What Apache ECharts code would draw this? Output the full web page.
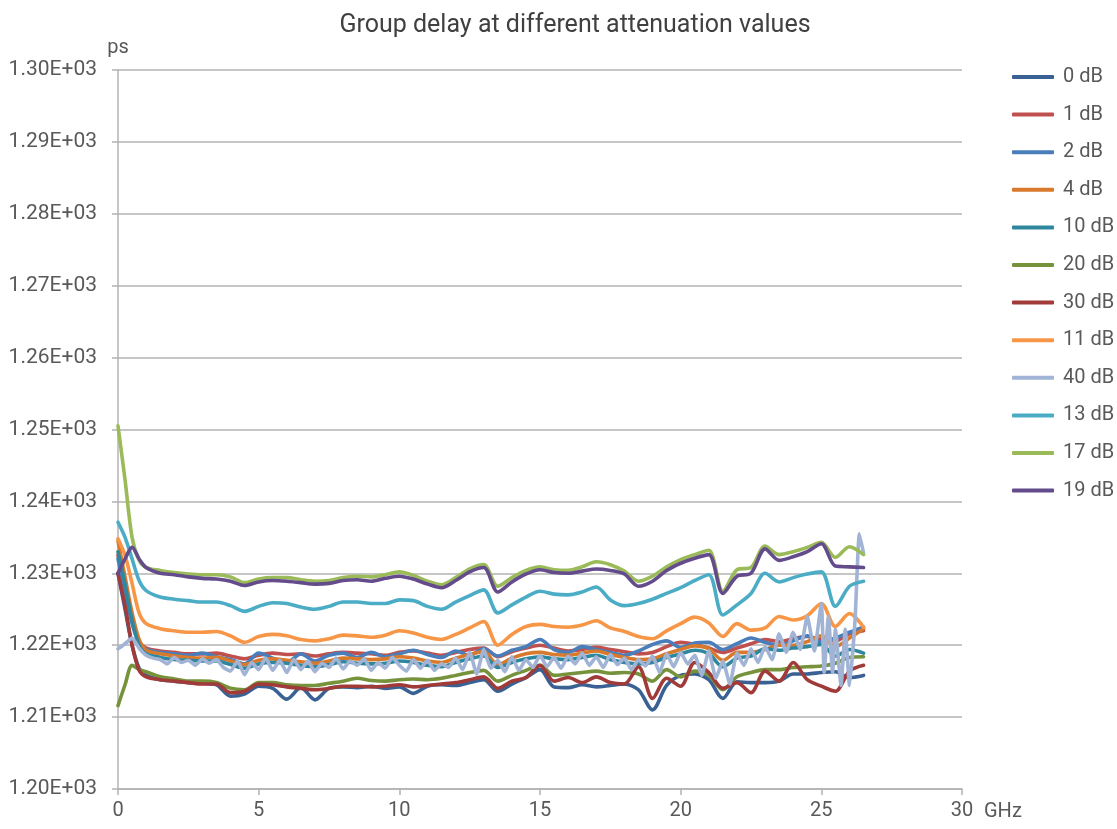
<!DOCTYPE html>
<html>
<head>
<meta charset="utf-8">
<title>Group delay</title>
<script src="https://cdn.jsdelivr.net/npm/echarts@6/dist/echarts.min.js"></script>
</head>
<body style="margin:0;background:#fff;">
<div id="main" style="width:1117px;height:829px;"></div>
<script>
// frequency points (GHz) shared by the smoother traces
var freq = [0, 0.25, 0.5, 0.75, 1, 1.5, 2, 2.5, 3, 3.5, 4, 4.5, 5, 5.5, 6, 6.5, 7, 7.5, 8, 8.5, 9, 9.5, 10, 10.5, 11, 11.5, 12, 12.5, 13, 13.5, 14, 14.5, 15, 15.5, 16, 16.5, 17, 17.5, 18, 18.5, 19, 19.5, 20, 20.5, 21, 21.5, 22, 22.5, 23, 23.5, 24, 24.5, 25, 25.5, 26, 26.5];

// group delay in ps
var db0 = [1230.0, 1225.0, 1220.0, 1216.8, 1215.8, 1215.2, 1215.0, 1214.8, 1214.7, 1214.5, 1212.9, 1213.2, 1214.3, 1214.0, 1212.5, 1214.1, 1212.4, 1214.0, 1214.2, 1214.1, 1214.3, 1214.0, 1214.2, 1213.3, 1214.3, 1214.5, 1214.4, 1214.8, 1215.2, 1213.6, 1214.6, 1215.5, 1216.6, 1214.2, 1214.1, 1214.5, 1214.2, 1214.4, 1214.6, 1213.8, 1211.0, 1214.4, 1215.8, 1216.0, 1215.2, 1212.6, 1214.9, 1214.8, 1214.8, 1215.0, 1216.0, 1216.0, 1216.2, 1216.3, 1215.5, 1215.8];
var db1 = [1232.5, 1228.0, 1223.5, 1220.5, 1219.6, 1219.2, 1219.0, 1218.8, 1218.8, 1218.9, 1218.5, 1218.1, 1218.6, 1218.9, 1218.7, 1218.8, 1218.5, 1218.8, 1219.0, 1218.9, 1218.8, 1218.6, 1219.0, 1219.2, 1218.9, 1218.6, 1219.0, 1219.4, 1219.6, 1218.4, 1219.1, 1219.6, 1220.0, 1219.6, 1219.2, 1219.4, 1219.7, 1219.4, 1219.1, 1218.8, 1219.0, 1219.8, 1220.4, 1220.1, 1219.6, 1219.0, 1219.6, 1220.2, 1220.8, 1220.5, 1220.9, 1221.2, 1220.8, 1220.6, 1221.6, 1222.0];
var db2 = [1232.0, 1227.5, 1223.0, 1220.3, 1219.4, 1219.0, 1218.8, 1218.6, 1218.9, 1218.4, 1218.0, 1217.4, 1218.9, 1218.2, 1217.6, 1218.8, 1217.8, 1218.6, 1218.9, 1218.3, 1219.0, 1218.4, 1218.8, 1219.3, 1218.7, 1218.3, 1219.2, 1218.6, 1219.5, 1218.5, 1219.3, 1219.8, 1220.8, 1219.4, 1219.0, 1219.8, 1219.4, 1219.0, 1218.6, 1219.2, 1220.1, 1220.6, 1219.7, 1220.3, 1220.4, 1219.4, 1220.2, 1221.0, 1220.4, 1220.0, 1220.6, 1221.3, 1220.4, 1221.0, 1221.8, 1222.5];
var db4 = [1234.5, 1229.5, 1224.5, 1220.8, 1219.3, 1218.8, 1218.5, 1218.3, 1218.2, 1218.3, 1217.8, 1217.3, 1217.9, 1218.1, 1217.9, 1217.7, 1217.5, 1217.8, 1218.2, 1218.1, 1218.0, 1218.1, 1218.4, 1218.2, 1217.8, 1217.6, 1218.2, 1218.7, 1219.1, 1217.3, 1218.2, 1218.8, 1219.0, 1218.7, 1218.6, 1218.9, 1219.2, 1218.7, 1218.3, 1218.0, 1218.1, 1218.8, 1219.4, 1219.9, 1219.5, 1217.9, 1219.0, 1219.0, 1219.4, 1220.0, 1220.0, 1220.5, 1221.3, 1219.8, 1221.0, 1222.3];
var db10 = [1233.0, 1228.5, 1223.5, 1220.0, 1218.8, 1218.3, 1218.0, 1217.9, 1217.8, 1217.8, 1217.3, 1216.8, 1217.4, 1217.6, 1217.5, 1217.2, 1217.0, 1217.3, 1217.7, 1217.5, 1217.4, 1217.5, 1217.8, 1217.6, 1217.2, 1217.0, 1217.6, 1218.1, 1218.5, 1216.9, 1217.6, 1218.1, 1218.4, 1218.1, 1218.0, 1218.3, 1218.6, 1218.0, 1217.6, 1217.4, 1217.6, 1218.3, 1218.8, 1219.3, 1218.8, 1217.0, 1218.2, 1218.5, 1219.5, 1219.3, 1219.6, 1219.8, 1220.1, 1218.5, 1219.4, 1218.9];
var db20 = [1211.6, 1214.5, 1217.2, 1216.6, 1216.3, 1215.6, 1215.3, 1215.0, 1215.0, 1214.8, 1214.0, 1213.8, 1214.8, 1214.8, 1214.5, 1214.4, 1214.4, 1214.7, 1215.0, 1215.4, 1215.1, 1215.0, 1215.2, 1215.3, 1215.2, 1215.4, 1215.8, 1216.2, 1216.5, 1215.0, 1215.8, 1216.5, 1217.2, 1215.8, 1216.0, 1216.2, 1216.4, 1216.1, 1216.2, 1216.0, 1215.0, 1216.6, 1215.6, 1216.4, 1215.8, 1213.8, 1215.6, 1216.2, 1216.6, 1216.6, 1216.9, 1217.0, 1217.1, 1217.5, 1218.3, 1218.4];
var db30 = [1230.0, 1225.5, 1220.0, 1216.5, 1215.6, 1215.2, 1215.0, 1214.8, 1214.6, 1214.6, 1213.4, 1213.6, 1214.6, 1214.5, 1214.2, 1214.0, 1213.8, 1214.0, 1214.3, 1214.3, 1214.2, 1214.3, 1214.5, 1214.2, 1214.4, 1214.6, 1214.8, 1215.2, 1215.6, 1214.0, 1215.0, 1215.5, 1217.2, 1215.0, 1215.5, 1214.8, 1215.6, 1214.8, 1214.6, 1217.0, 1212.6, 1215.4, 1214.3, 1217.6, 1216.2, 1214.0, 1214.8, 1213.4, 1216.4, 1215.0, 1217.6, 1215.2, 1214.3, 1213.6, 1216.4, 1217.2];
var db11 = [1234.8, 1232.5, 1228.6, 1224.5, 1223.0, 1222.3, 1222.0, 1221.8, 1221.8, 1221.9, 1221.3, 1220.4, 1221.2, 1221.5, 1221.3, 1220.8, 1220.6, 1220.9, 1221.4, 1221.3, 1221.1, 1221.4, 1222.0, 1221.7, 1221.1, 1220.8, 1221.5, 1222.4, 1223.3, 1220.0, 1221.5, 1222.6, 1222.9, 1222.6, 1222.5, 1222.8, 1223.4, 1222.4, 1221.9, 1221.2, 1220.9, 1222.0, 1223.0, 1223.9, 1223.1, 1221.2, 1223.0, 1222.1, 1222.4, 1224.0, 1223.5, 1224.1, 1225.8, 1222.6, 1224.4, 1222.5];
var db13 = [1237.1, 1235.0, 1232.0, 1229.0, 1227.6, 1226.7, 1226.4, 1226.2, 1226.0, 1226.0, 1225.5, 1224.7, 1225.4, 1225.9, 1225.8, 1225.3, 1225.0, 1225.4, 1226.0, 1226.0, 1225.8, 1225.8, 1226.3, 1226.2, 1225.4, 1225.0, 1226.0, 1226.9, 1227.7, 1224.5, 1225.6, 1226.7, 1227.5, 1227.1, 1227.0, 1227.4, 1228.1, 1226.3, 1225.5, 1225.8, 1226.4, 1227.2, 1228.0, 1229.0, 1229.8, 1224.2, 1225.6, 1227.2, 1230.0, 1228.8, 1229.4, 1229.9, 1230.2, 1225.4, 1228.2, 1228.9];
var db17 = [1250.5, 1243.0, 1235.0, 1231.8, 1230.8, 1230.4, 1230.1, 1229.9, 1229.8, 1229.8, 1229.5, 1228.7, 1229.2, 1229.4, 1229.4, 1229.1, 1228.9, 1229.0, 1229.4, 1229.6, 1229.5, 1229.8, 1230.2, 1229.7, 1228.9, 1228.4, 1229.4, 1230.6, 1231.2, 1228.2, 1229.4, 1230.4, 1230.9, 1230.5, 1230.4, 1230.9, 1231.6, 1231.2, 1230.3, 1228.9, 1229.6, 1230.9, 1231.9, 1232.6, 1233.2, 1227.5, 1230.5, 1230.8, 1233.8, 1232.6, 1233.0, 1233.6, 1234.3, 1232.2, 1233.7, 1232.6];
var db19 = [1230.0, 1232.0, 1233.6, 1232.0, 1230.8, 1230.0, 1229.8, 1229.5, 1229.3, 1229.2, 1228.9, 1228.3, 1228.8, 1229.0, 1228.9, 1228.7, 1228.5, 1228.6, 1229.0, 1229.1, 1228.9, 1229.3, 1229.6, 1229.2, 1228.5, 1228.0, 1229.0, 1230.2, 1230.8, 1227.4, 1228.8, 1229.9, 1230.5, 1230.1, 1230.0, 1230.3, 1230.6, 1230.4, 1229.9, 1228.2, 1228.9, 1230.4, 1231.4, 1232.1, 1232.6, 1227.2, 1229.6, 1230.0, 1233.4, 1231.8, 1232.3, 1233.0, 1234.1, 1231.0, 1230.9, 1230.8];

// the 40 dB trace is noisy, so it is sampled more finely
var freq40 = [0, 0.25, 0.5, 0.75, 1, 1.25, 1.5, 1.75, 2, 2.25, 2.5, 2.75, 3, 3.25, 3.5, 3.75, 4, 4.25, 4.5, 4.75, 5, 5.25, 5.5, 5.75, 6, 6.25, 6.5, 6.75, 7, 7.25, 7.5, 7.75, 8, 8.25, 8.5, 8.75, 9, 9.25, 9.5, 9.75, 10, 10.25, 10.5, 10.75, 11, 11.25, 11.5, 11.75, 12, 12.25, 12.5, 12.75, 13, 13.25, 13.5, 13.75, 14, 14.25, 14.5, 14.75, 15, 15.25, 15.5, 15.75, 16, 16.25, 16.5, 16.75, 17, 17.25, 17.5, 17.75, 18, 18.25, 18.5, 18.75, 19, 19.25, 19.5, 19.75, 20, 20.25, 20.5, 20.75, 21, 21.25, 21.5, 21.75, 22, 22.25, 22.5, 22.75, 23, 23.25, 23.5, 23.75, 24, 24.25, 24.5, 24.75, 25, 25.1, 25.25, 25.4, 25.5, 25.7, 25.85, 26, 26.2, 26.35, 26.5];
var db40 = [1219.5, 1220.2, 1221.0, 1219.6, 1218.6, 1218.2, 1218.0, 1217.4, 1218.3, 1217.6, 1217.9, 1217.2, 1218.1, 1217.5, 1218.0, 1216.9, 1216.4, 1217.8, 1215.9, 1217.6, 1216.6, 1218.2, 1216.5, 1217.9, 1216.2, 1218.0, 1216.6, 1217.8, 1216.3, 1217.5, 1216.9, 1218.2, 1216.7, 1217.8, 1217.2, 1218.1, 1216.5, 1217.6, 1216.8, 1218.3, 1217.2, 1216.4, 1218.0, 1216.8, 1217.9, 1216.5, 1217.4, 1216.9, 1218.2, 1216.6, 1219.0, 1216.0, 1219.4, 1216.8, 1217.9, 1216.3, 1218.4, 1216.5, 1218.0, 1216.9, 1218.6, 1217.0, 1218.3, 1216.8, 1218.5, 1217.4, 1218.9, 1217.2, 1218.4, 1216.9, 1218.7, 1217.3, 1218.2, 1216.6, 1218.0, 1217.1, 1218.5, 1216.2, 1218.8, 1217.0, 1219.0, 1217.4, 1218.6, 1215.8, 1219.2, 1215.4, 1217.8, 1214.6, 1218.9, 1217.2, 1219.5, 1217.6, 1219.8, 1218.0, 1221.6, 1219.0, 1221.8, 1219.4, 1224.0, 1219.2, 1225.8, 1216.2, 1224.0, 1216.2, 1222.2, 1214.4, 1222.2, 1214.4, 1223.6, 1235.5, 1232.8];

var names = ['0 dB', '1 dB', '2 dB', '4 dB', '10 dB', '20 dB', '30 dB', '11 dB', '40 dB', '13 dB', '17 dB', '19 dB'];
var colors = ['#3A6193', '#C0504D', '#4A7EBB', '#D8792C', '#2F879E', '#76933C', '#A03B39', '#F79646', '#A2B4D6', '#4BACC6', '#9BBB59', '#634B8C'];
var values = [db0, db1, db2, db4, db10, db20, db30, db11, db40, db13, db17, db19];

var myChart = echarts.init(document.getElementById('main'));
var textColor = '#595959';
var font = 'Roboto, "Liberation Sans", sans-serif';

var series = names.map(function (name, k) {
    var xs = name === '40 dB' ? freq40 : freq;
    return {
        name: name,
        type: 'line',
        symbol: 'none',
        smooth: name === '40 dB' ? 0.15 : 0.3,
        lineStyle: { width: 3.6, color: colors[k], cap: 'round', join: 'round' },
        itemStyle: { color: colors[k] },
        data: xs.map(function (f, i) { return [f, values[k][i]]; })
    };
});

var option = {
    animation: false,
    textStyle: { fontFamily: font },
    title: {
        text: 'Group delay at different attenuation values',
        left: 570,
        textAlign: 'center',
        top: 8,
        textStyle: { fontSize: 25, fontWeight: 'normal', color: '#404040', fontFamily: font }
    },
    legend: {
        data: names,
        orient: 'vertical',
        left: 1007,
        top: 62,
        icon: 'roundRect',
        itemWidth: 42,
        itemHeight: 4,
        itemGap: 17.6,
        textStyle: { fontSize: 20, color: textColor, lineHeight: 20, padding: [0, 0, 0, 4], fontFamily: font }
    },
    grid: { left: 118, right: 155, top: 70, bottom: 40 },
    xAxis: {
        type: 'value',
        min: 0,
        max: 30,
        interval: 5,
        name: 'GHz',
        nameLocation: 'end',
        nameGap: 22,
        nameTextStyle: { fontSize: 20, color: textColor, verticalAlign: 'top', padding: [13, 0, 0, 0] },
        axisLine: { lineStyle: { color: '#B3B3B3', width: 1.5 } },
        axisTick: { show: true, length: 6, lineStyle: { color: '#B3B3B3', width: 1.5 } },
        axisLabel: { fontSize: 20, color: textColor, margin: 12 },
        splitLine: { show: false }
    },
    yAxis: {
        type: 'value',
        min: 1200,
        max: 1300,
        interval: 10,
        name: 'ps',
        nameLocation: 'end',
        nameGap: 12,
        nameTextStyle: { fontSize: 20, color: textColor },
        axisLine: { show: true, lineStyle: { color: '#B3B3B3', width: 1.5 } },
        axisTick: { show: true, length: 6, lineStyle: { color: '#B3B3B3', width: 1.5 } },
        axisLabel: {
            fontSize: 21, color: textColor, margin: 21,
            formatter: function (v) { return (v / 1000).toFixed(2) + 'E+03'; }
        },
        splitLine: { lineStyle: { color: '#B3B3B3', width: 1.5 } }
    },
    series: series
};

option && myChart.setOption(option);
</script>
</body>
</html>
